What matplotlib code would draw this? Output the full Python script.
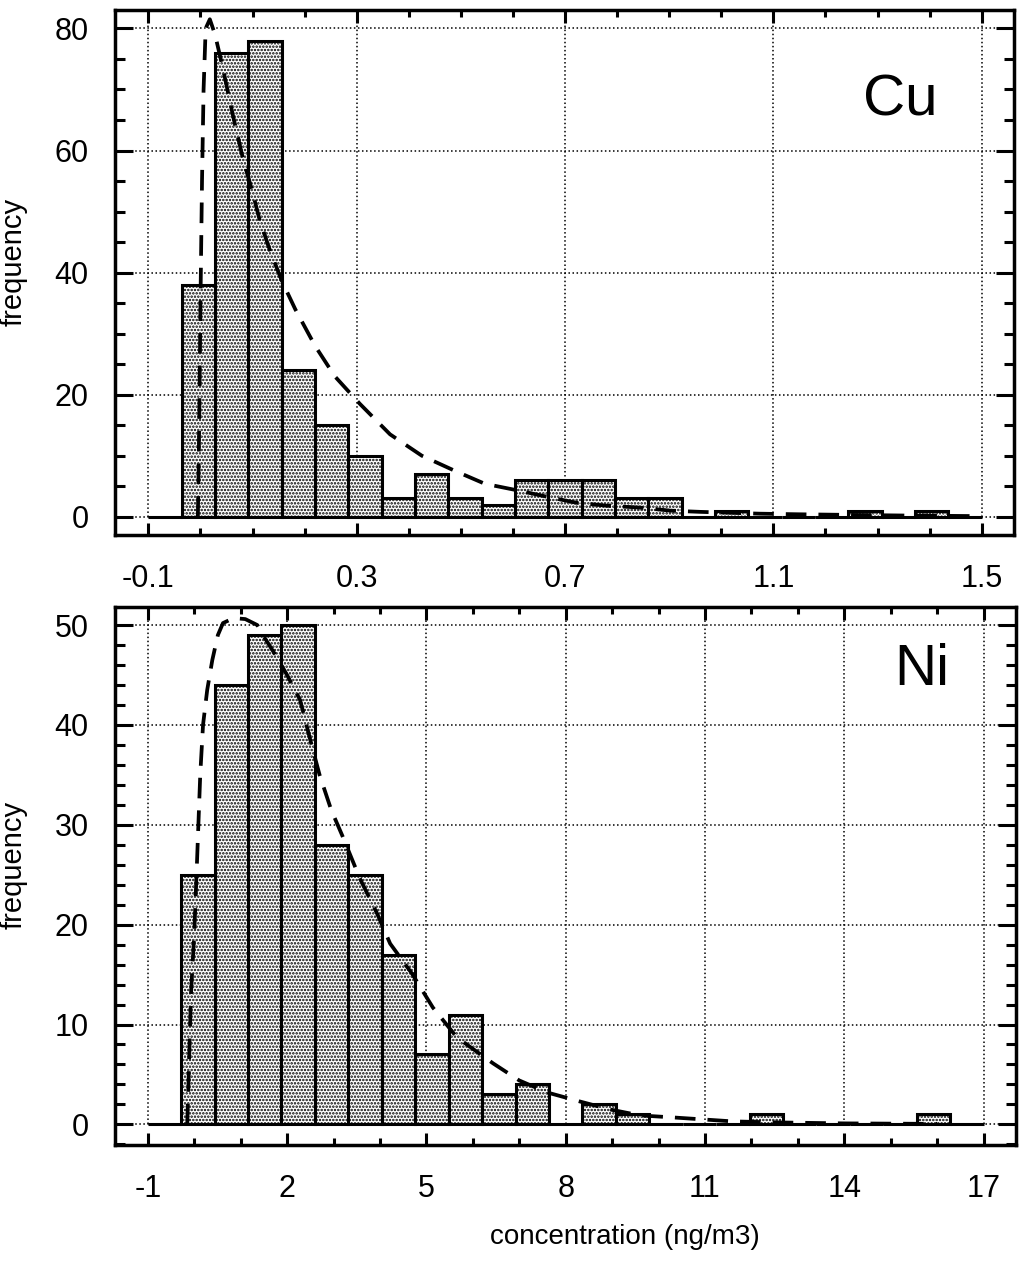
import numpy as np
import matplotlib.pyplot as plt
from matplotlib.ticker import MultipleLocator

plt.rcParams['font.family'] = ['Liberation Sans', 'DejaVu Sans']
plt.rcParams['axes.unicode_minus'] = False
plt.rcParams['hatch.linewidth'] = 1.2

# --- Cu : 25 bins between -0.1 and 1.5 ---
cu_edges = np.linspace(-0.1, 1.5, 26)
cu_counts = [0, 38, 76, 78, 24, 15, 10, 3, 7, 3, 2, 6, 6, 6, 3, 3, 0, 1, 0, 0, 0, 1, 0, 1, 0]
# fitted curve
cu_fit_x = [-0.005, -0.004, -0.002, 0.0, 0.003, 0.006, 0.010, 0.018, 0.028, 0.043, 0.063,
            0.082, 0.099, 0.114, 0.134, 0.157, 0.182, 0.220, 0.258, 0.306, 0.364, 0.425,
            0.489, 0.546, 0.610, 0.664, 0.721, 0.781, 0.844, 0.902, 0.959, 1.074, 1.151,
            1.247, 1.35, 1.5]
cu_fit_y = [0, 5, 18, 35, 55, 70, 80, 81.5, 79, 73.5, 65.5, 58.5, 53.5, 48.5, 43.5, 38.5,
            34, 28, 23, 18.5, 13.5, 10, 7.5, 5.4, 4.3, 3.3, 2.3, 1.8, 1.5, 1.0, 0.8, 0.5,
            0.4, 0.3, 0.2, 0.1]

# --- Ni : 25 bins between -1 and 17 ---
ni_edges = np.linspace(-1, 17, 26)
ni_counts = [0, 25, 44, 49, 50, 28, 25, 17, 7, 11, 3, 4, 0, 2, 1, 0, 0, 0, 1, 0, 0, 0, 0, 1, 0]
ni_fit_x = [-0.15, -0.13, -0.10, -0.07, 0.0, 0.05, 0.09, 0.13, 0.19, 0.28, 0.39, 0.51, 0.62,
            0.85, 1.1, 1.36, 1.48, 1.75, 2.0, 2.28, 2.5, 2.7, 2.95, 3.2, 3.57, 3.94, 4.22,
            4.69, 5.14, 5.66, 6.44, 7.0, 7.6, 8.3, 8.95, 9.6, 10.3, 10.95, 11.6, 12.5, 14, 16]
ni_fit_y = [0, 3, 8, 13, 19, 25, 30, 35, 40, 43.5, 46.5, 49, 50.2, 50.7, 50.6, 50, 49, 47,
            45, 42.5, 38.5, 35, 31.5, 28.8, 24.6, 21.1, 18.1, 15.1, 11.7, 8.7, 6.1, 4.4,
            3.2, 2.3, 1.5, 0.9, 0.7, 0.5, 0.3, 0.2, 0.1, 0.05]

cu_xticks = [-0.1, 0.3, 0.7, 1.1, 1.5]
ni_xticks = [-1, 2, 5, 8, 11, 14, 17]


def panel(ax, edges, counts, fx, fy, xlim, ylim, xticks, xminor, ystep, yminor, name, name_pos):
    ax.bar(edges[:-1], counts, width=np.diff(edges), align='edge', facecolor='white',
           edgecolor='black', linewidth=2.2, hatch='.....', zorder=2)
    ax.plot(fx, fy, color='black', lw=2.7, ls=(0, (5.5, 3.2)), zorder=3)

    ax.set_xlim(*xlim)
    ax.set_ylim(*ylim)
    ax.set_xticks(xticks)
    ax.set_xticklabels([f'{t:g}' for t in xticks])
    ax.xaxis.set_minor_locator(MultipleLocator(xminor))
    ax.yaxis.set_major_locator(MultipleLocator(ystep))
    ax.yaxis.set_minor_locator(MultipleLocator(yminor))

    # dotted grid, vertical lines only above zero
    ax.yaxis.grid(True, which='major', ls=':', color='black', lw=1.1, zorder=0)
    ax.vlines(xticks, 0, ylim[1], colors='black', linestyles=':', lw=1.1, zorder=0)
    ax.set_axisbelow(True)

    ax.tick_params(which='both', direction='in', top=True, right=True, width=2.2,
                   labelsize=22)
    ax.tick_params(axis='y', which='major', length=13, pad=19)
    ax.tick_params(axis='y', which='minor', length=7)
    ax.tick_params(axis='x', which='major', length=9, pad=21)
    ax.tick_params(axis='x', which='minor', length=5)
    for s in ax.spines.values():
        s.set_linewidth(2.5)

    ax.set_ylabel('frequency', fontsize=21)
    ax.yaxis.set_label_coords(-0.097, 0.52)
    ax.text(name_pos[0], name_pos[1], name, transform=ax.transAxes, fontsize=42,
            ha='center', va='center')


fig = plt.figure(figsize=(10.28, 12.64), dpi=100)
ax1 = fig.add_axes([0.1119, 0.5767, 0.8745, 0.4153])
ax2 = fig.add_axes([0.1119, 0.0941, 0.8765, 0.4256])

panel(ax1, cu_edges, cu_counts, cu_fit_x, cu_fit_y, (-0.164, 1.562), (-3, 83),
      cu_xticks, 0.1, 20, 5, 'Cu', (0.873, 0.827))
panel(ax2, ni_edges, ni_counts, ni_fit_x, ni_fit_y, (-1.705, 17.70), (-2.07, 51.8),
      ni_xticks, 1, 10, 2, 'Ni', (0.895, 0.883))

ax2.text(0.566, -0.171, 'concentration (ng/m3)', transform=ax2.transAxes,
         fontsize=20, ha='center', va='center')

fig.savefig('out.png', dpi=100)
